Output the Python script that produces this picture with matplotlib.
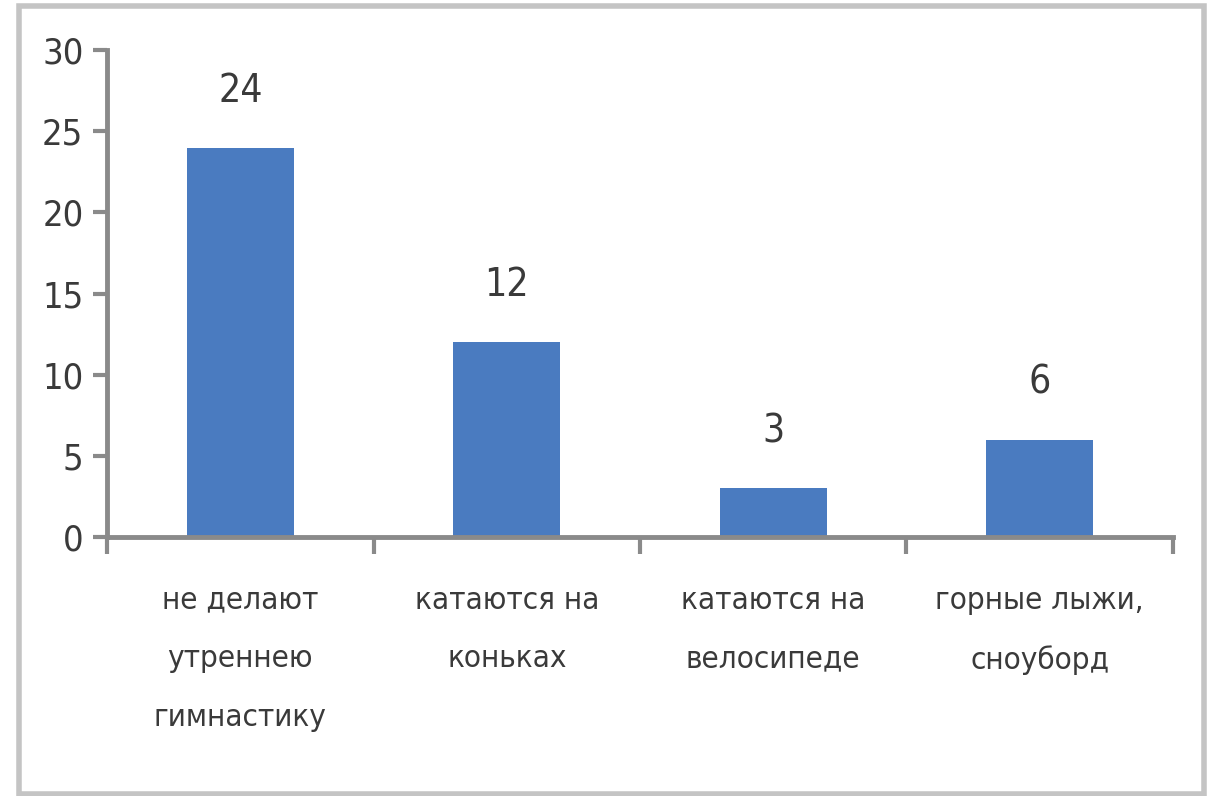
import matplotlib.pyplot as plt
from matplotlib.patches import Rectangle
import numpy as np

plt.rcParams['font.family'] = ['Liberation Sans Narrow', 'DejaVu Sans']
plt.rcParams['font.stretch'] = 'condensed'

# data
categories = ["не делают\nутреннею\nгимнастику", "катаются на\nконьках",
              "катаются на\nвелосипеде", "горные лыжи,\nсноуборд"]
values = [24, 12, 3, 6]
yticks = [0, 5, 10, 15, 20, 25, 30]

bar_color = "#4a7bc0"
axis_color = "#8a8a8a"
text_color = "#3a3a3a"

fig = plt.figure(figsize=(12.15, 7.96), dpi=100)
ax = fig.add_axes([0.0881, 0.3254, 0.8773, 0.6116])

x = np.arange(len(values))
bars = ax.bar(x, values, width=0.4, color=bar_color, zorder=2)

for b, v in zip(bars, values):
    ax.annotate(str(v), (b.get_x() + b.get_width() / 2, v),
                xytext=(0, 41), textcoords="offset points",
                ha="center", va="center", fontsize=28, color=text_color)

ax.set_xlim(-0.5, len(values) - 0.5)
ax.set_ylim(0, 30)
ax.set_yticks(yticks)
ax.set_yticklabels([str(t) for t in yticks], fontsize=26, color=text_color)

# category labels between boundary ticks
ax.set_xticks(x)
ax.set_xticklabels(categories, fontsize=22.5, color=text_color, linespacing=2.3,
                   va="top")
ax.tick_params(axis="x", length=0, pad=35)
ax.set_xticks(np.arange(len(values) + 1) - 0.5, minor=True)
ax.tick_params(axis="x", which="minor", length=12, width=3, color=axis_color,
               direction="out")
ax.tick_params(axis="y", length=10, width=3, color=axis_color, pad=7)

for side in ["top", "right"]:
    ax.spines[side].set_visible(False)
for side in ["left", "bottom"]:
    ax.spines[side].set_color(axis_color)
    ax.spines[side].set_linewidth(3.5)

# light frame round the whole picture
fig.patches.append(Rectangle((0.016, 0.003), 0.975, 0.99, transform=fig.transFigure,
                             fill=False, edgecolor="#c4c4c4", linewidth=4))

fig.savefig("out.png", dpi=100)
